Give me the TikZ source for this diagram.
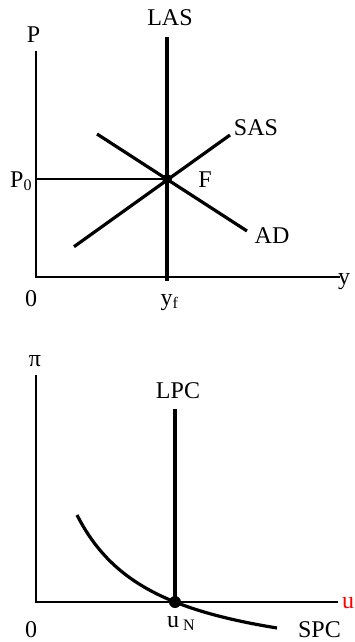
\documentclass[tikz,border=0pt]{standalone}
\usepackage{fontspec}
\setmainfont{Liberation Serif}
\newcommand\mysub[1]{\raisebox{-0.3ex}{\fontsize{16}{16}\selectfont #1}}
\begin{document}
\begin{tikzpicture}[x=1pt,y=-1pt,
  font=\fontsize{24}{28}\selectfont,
  axis/.style={line width=1.3pt},
  curve/.style={line width=3.2pt},
  lab/.style={inner sep=0pt}]
\useasboundingbox (0,0) rectangle (354,642);
% ---------- top panel ----------
\coordinate (Ptop) at (36,51);
\coordinate (O1) at (36,277);
\coordinate (X1end) at (340,277);
\draw[axis] (Ptop) -- (O1) -- (X1end);
\coordinate (F) at (167,179);
\coordinate (P0) at (36,179);
\draw[axis] (P0) -- (F);
\coordinate (LAStop) at (167,37);
\coordinate (LASbot) at (167,281);
\draw[curve] (LAStop) -- (LASbot);
\coordinate (SASa) at (74,246.7);
\coordinate (SASb) at (230,135);
\draw[curve] (SASa) -- (SASb);
\coordinate (ADa) at (97,134);
\coordinate (ADb) at (247,231);
\draw[curve] (ADa) -- (ADb);
\fill (F) circle (5);
\node[lab,anchor=base] (lP) at (33.5,43) {P};
\node[lab,anchor=base] (lLAS) at (170,26) {LAS};
\node[lab,anchor=base] (lSAS) at (256,135) {SAS};
\node[lab,anchor=base] (lF) at (205,187) {F};
\node[lab,anchor=base] (lAD) at (272,243) {AD};
\node[lab,anchor=base west] (lP0) at (10,187) {P\mysub{0}};
\node[lab,anchor=base] (lO1) at (31,306) {0};
\node[lab,anchor=base west] (lyf) at (160.5,305) {y\mysub{f}};
\node[lab,anchor=base west] (ly) at (338,284) {y};
% ---------- bottom panel ----------
\coordinate (PiTop) at (36,375);
\coordinate (O2) at (36,602);
\coordinate (X2end) at (338,602);
\draw[axis] (PiTop) -- (O2) -- (X2end);
\coordinate (LPCtop) at (175,409);
\coordinate (N) at (175,602);
\draw[curve] (LPCtop) -- (N);
\draw[curve] plot[domain=77:277,samples=80] (\x,{673.5-12770/(\x+3.56)});
\fill (N) circle (6);
\node[lab,anchor=base] (lpi) at (35,366) {π};
\node[lab,anchor=base] (lLPC) at (178,398) {LPC};
\node[lab,anchor=base west,text=red] (lu) at (342,608) {u};
\node[lab,anchor=base west] (luN) at (167,627) {u\,\mysub{N}};
\node[lab,anchor=base] (lO2) at (31,637) {0};
\node[lab,anchor=base] (lSPC) at (319.5,637) {SPC};
\end{tikzpicture}
\end{document}
